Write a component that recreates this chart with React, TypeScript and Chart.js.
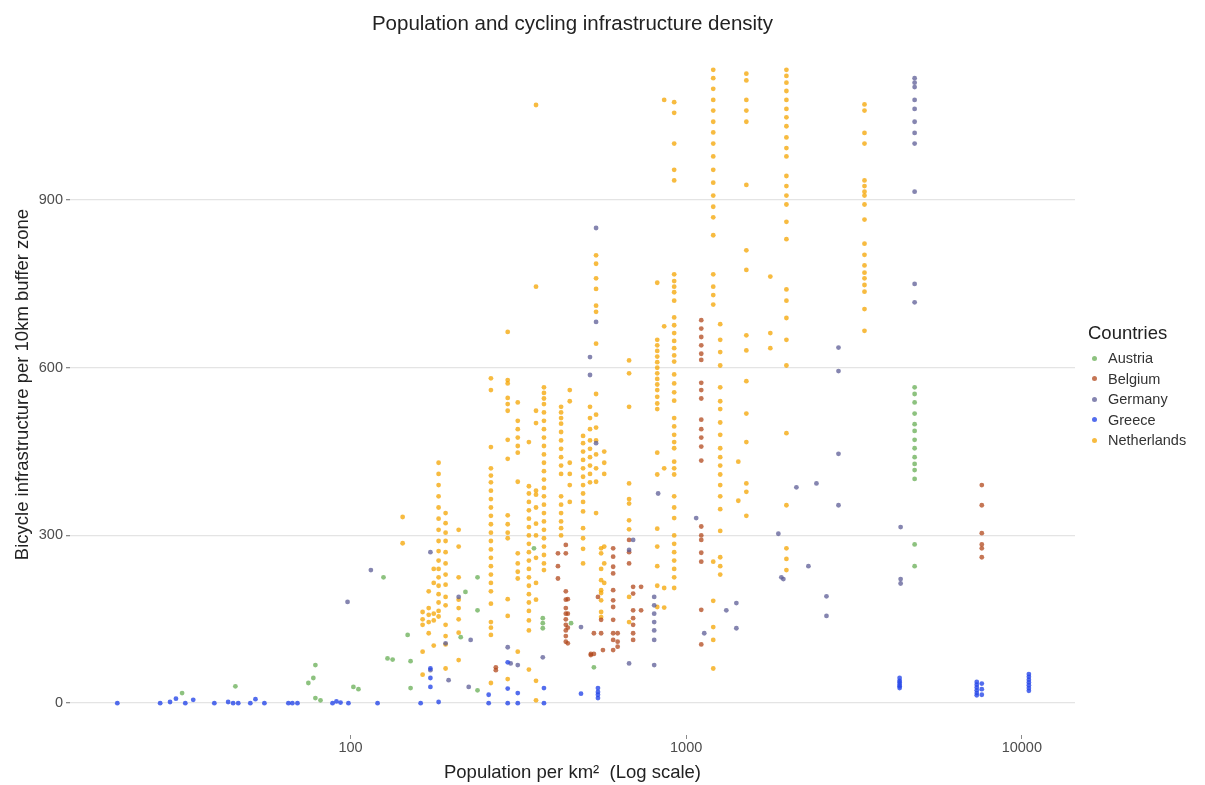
import { useEffect, useRef } from "react";
import { Chart, registerables } from "chart.js";

Chart.register(...registerables);

type Col = [number, number[]];

const countries = ["Austria", "Belgium", "Germany", "Greece", "Netherlands"];

const austriaCols: Col[] = [
  [31.5, [18]], [45.4, [30]], [74.9, [36]], [77.5, [45]], [78.6, [68, 9]], [81.4, [5]],
  [102, [29]], [105.6, [25]], [125.4, [225]], [128.9, [80]], [133.5, [78]], [148, [122]],
  [151, [75, 27]], [213, [118]], [220, [199]], [239, [225, 166, 23]], [352, [277]],
  [374, [152, 143, 134]], [454, [143]], [531, [64]],
  [4793, [565, 553, 538, 518, 499, 487, 471, 456, 440, 428, 417, 401, 284, 245]],
];

const belgiumCols: Col[] = [
  [271, [64, 59]], [415, [268, 245, 223]], [438, [283, 268, 200, 185, 170, 160, 150, 140, 130, 120, 110]],
  [444, [186, 160, 135, 107]], [520, [88, 86]], [531, [125, 88]], [546, [190]], [558, [149, 125]],
  [565, [95]], [606, [277, 262, 244, 232, 202, 184, 172, 149, 125, 113, 95]], [625, [125, 110, 101]],
  [676, [292, 270, 250]], [695, [208, 196, 166, 152, 140, 125, 113]], [734, [208, 166]],
  [1109, [685, 670, 655, 640, 625, 614, 573, 560, 545, 507, 490, 475, 459, 434, 316, 300, 292, 269, 253, 167, 105]],
  [7598, [390, 354, 304, 284, 277, 261]],
];

const germanyCols: Col[] = [
  [98, [181]], [115, [238]], [173, [270, 59]], [192, [107]], [196, [41]], [210, [190]], [225, [29]],
  [228, [113]], [294, [100]], [300, [71]], [315, [68]], [374, [82]], [486, [136]],
  [539, [850, 682, 465]], [517, [619, 587]], [676, [274, 71]], [695, [292]],
  [803, [190, 175, 160, 145, 130, 113, 68]], [825, [375]], [1071, [331]], [1132, [125]],
  [1317, [166]], [1411, [179, 134]], [1882, [303]], [1921, [225]], [1948, [222]], [2130, [386]],
  [2313, [245]], [2444, [393]], [2618, [191, 156]], [2843, [636, 594, 446, 354]],
  [4354, [315, 222, 214]], [4793, [1118, 1110, 1102, 1079, 1063, 1040, 1020, 1001, 915, 750, 717]],
];

const greeceCols: Col[] = [
  [20.2, [0]], [27.1, [0]], [29, [2]], [30.2, [8]], [32.2, [0]], [34, [6]], [39.3, [0]], [43.2, [2]],
  [44.7, [0]], [46.3, [0]], [50.3, [0]], [52.1, [7]], [55.4, [0]], [65.3, [0]], [67.1, [0]], [69.5, [0]],
  [88.4, [0]], [90.8, [3]], [93.4, [1]], [98.6, [0]], [120.4, [0]], [161.8, [0]], [173, [62, 45, 29]],
  [183, [2]], [258, [15, 0]], [294, [73, 26, 0]], [315, [18, 0]], [377, [27, 0]], [486, [17]],
  [546, [27, 20, 15, 9]], [4324, [45, 40, 37, 33, 30, 27]], [7340, [38, 33, 28, 23, 18, 14]],
  [7598, [35, 25, 15]], [10493, [52, 47, 42, 37, 32, 27, 22]],
];

const netherlandsCols: Col[] = [
  [143, [333, 286]],
  [164, [163, 150, 140, 92, 51]],
  [171, [170, 158, 145, 125, 200]],
  [177, [160, 148, 103, 215, 240]],
  [183, [430, 410, 390, 370, 350, 330, 310, 290, 272, 255, 240, 225, 210, 195, 180, 165, 155]],
  [192, [340, 322, 305, 290, 270, 250, 230, 212, 190, 175, 140, 120, 105, 62]],
  [210, [310, 280, 225, 185, 170, 150, 126, 77]],
  [262, [581, 560, 458, 420, 407, 395, 380, 365, 350, 335, 320, 305, 290, 275, 260, 245, 230, 215, 200, 178, 145, 135, 122, 36]],
  [294, [664, 578, 572, 546, 535, 523, 471, 437, 336, 320, 305, 295, 186, 156, 43]],
  [315, [538, 505, 490, 475, 460, 448, 396, 268, 250, 235, 223, 92]],
  [340, [467, 388, 375, 360, 345, 330, 315, 300, 285, 270, 255, 240, 225, 210, 195, 180, 165, 148, 130, 60]],
  [357, [1070, 745, 523, 501, 380, 373, 350, 321, 300, 260, 215, 185, 40, 5]],
  [377, [565, 555, 545, 535, 520, 505, 490, 475, 460, 445, 430, 415, 400, 385, 370, 355, 340, 325, 310, 295, 280, 265, 250, 238]],
  [424, [530, 520, 510, 500, 485, 470, 455, 440, 425, 410, 370, 355, 340, 325, 313, 300]],
  [450, [560, 540, 430, 410, 390, 360]],
  [493, [478, 465, 450, 435, 420, 405, 390, 375, 360, 343, 313, 295, 276, 250]],
  [517, [530, 510, 490, 470, 455, 440, 425, 410, 395]],
  [539, [801, 786, 760, 741, 711, 700, 643, 553, 516, 493, 470, 445, 420, 396, 340]],
  [558, [277, 268, 240, 220, 202, 197, 184, 163, 154]],
  [570, [450, 430, 410, 280, 250, 215]],
  [676, [613, 590, 530, 393, 365, 357, 327, 311, 190, 145]],
  [820, [752, 650, 640, 630, 620, 610, 600, 590, 580, 570, 560, 548, 536, 526, 448, 409, 312, 280, 245, 210, 172]],
  [860, [1079, 674, 420, 206, 171]],
  [921, [1075, 1056, 1001, 954, 935, 767, 755, 745, 735, 720, 690, 676, 662, 648, 635, 622, 611, 588, 572, 556, 541, 510, 495, 480, 467, 456, 432, 420, 409, 370, 350, 331, 300, 285, 270, 255, 240, 225, 206]],
  [1204, [1133, 1118, 1099, 1079, 1060, 1040, 1021, 1001, 978, 954, 931, 908, 888, 869, 837, 767, 745, 730, 713, 253, 183, 136, 113, 62]],
  [1263, [678, 650, 628, 604, 565, 540, 526, 502, 480, 456, 440, 425, 409, 390, 370, 347, 308, 261, 245, 230]],
  [1430, [432, 362]],
  [1511, [1126, 1114, 1079, 1060, 1040, 927, 810, 775, 658, 631, 576, 518, 467, 393, 378, 335]],
  [1781, [763, 662, 635]],
  [1989, [1133, 1122, 1110, 1095, 1079, 1063, 1048, 1032, 1012, 993, 978, 943, 925, 908, 892, 861, 830, 740, 720, 689, 650, 604, 483, 354, 277, 258, 238]],
  [3398, [1071, 1060, 1020, 1001, 935, 925, 915, 908, 892, 865, 822, 802, 783, 770, 760, 748, 736, 705, 666]],
];

const xTicks = [100, 1000, 10000];
const yTicks = [0, 300, 600, 900];

const countryColors: Record<string, string> = {
  Austria: "rgba(92,168,72,0.7)",
  Belgium: "rgba(178,72,28,0.75)",
  Germany: "rgba(92,92,150,0.75)",
  Greece: "rgba(40,72,232,0.8)",
  Netherlands: "rgba(244,164,0,0.75)",
};

const FONT = "'Liberation Sans', Arial, Helvetica, sans-serif";

function toPoints(cols: Col[]) {
  return cols.flatMap(([x, ys]) => ys.map((y) => ({ x, y })));
}

export default function App() {
  const canvasRef = useRef<HTMLCanvasElement | null>(null);

  useEffect(() => {
    if (!canvasRef.current) return;
    const colsByCountry: Record<string, Col[]> = {
      Austria: austriaCols,
      Belgium: belgiumCols,
      Germany: germanyCols,
      Greece: greeceCols,
      Netherlands: netherlandsCols,
    };
    const drawOrder = ["Greece", "Germany", "Belgium", "Austria", "Netherlands"];
    const chart = new Chart(canvasRef.current, {
      type: "scatter",
      data: {
        datasets: drawOrder.map((c) => ({
          label: c,
          data: toPoints(colsByCountry[c]),
          backgroundColor: countryColors[c],
          borderWidth: 0,
          pointRadius: 2.4,
          pointHoverRadius: 2.4,
        })),
      },
      options: {
        animation: false,
        responsive: true,
        maintainAspectRatio: false,
        layout: { padding: { left: 0, right: 130, top: 34, bottom: 0 } },
        plugins: {
          legend: { display: false },
          title: { display: false },
          tooltip: { enabled: false },
        },
        scales: {
          x: {
            type: "logarithmic",
            min: 14.6,
            max: 14400,
            afterBuildTicks: (s: any) => {
              s.ticks = xTicks.map((v) => ({ value: v }));
            },
            afterFit: (s: any) => {
              s.height = 50;
            },
            grid: { drawOnChartArea: false, drawTicks: true, tickLength: 4, tickColor: "#8a8a8a" },
            border: { display: false },
            ticks: {
              color: "#4d4d4d",
              font: { size: 14.5, family: FONT },
              padding: 0,
              autoSkip: false,
              maxRotation: 0,
              callback: (v: any) => String(v),
            },
            title: {
              display: true,
              text: "Population per km²  (Log scale)",
              color: "#222",
              font: { size: 18.5, family: FONT },
              padding: { top: 0, bottom: 1 },
            },
          },
          y: {
            type: "linear",
            min: -57,
            max: 1197,
            afterBuildTicks: (s: any) => {
              s.ticks = yTicks.map((v) => ({ value: v }));
            },
            afterFit: (s: any) => {
              s.width = 70;
            },
            grid: { color: "#e4e4e4", lineWidth: 1.3, tickLength: 4, tickColor: "#8a8a8a" },
            border: { display: false },
            ticks: {
              color: "#4d4d4d",
              font: { size: 14.5, family: FONT },
              padding: 3,
              callback: (v: any) => String(v),
            },
            title: {
              display: true,
              text: "Bicycle infrastructure per 10km buffer zone",
              color: "#222",
              font: { size: 18.5, family: FONT },
              padding: { top: 12, bottom: 0 },
            },
          },
        },
      },
    });
    return () => chart.destroy();
  }, []);

  return (
    <div style={{ position: "fixed", left: 0, top: 0, width: 1205, height: 785, background: "#fff", fontFamily: FONT }}>
      <canvas ref={canvasRef} />
      <div
        style={{
          position: "absolute",
          left: 70,
          width: 1005,
          top: 10,
          textAlign: "center",
          fontSize: 20.5,
          lineHeight: "26px",
          color: "#222",
        }}
      >
        Population and cycling infrastructure density
      </div>
      <div style={{ position: "absolute", left: 1088, top: 321, fontSize: 18.5, lineHeight: "24px", color: "#222" }}>
        Countries
      </div>
      {countries.map((c, i) => (
        <div
          key={c}
          style={{
            position: "absolute",
            left: 1088,
            top: 349 + i * 20.5,
            height: 18,
            display: "flex",
            alignItems: "center",
            fontSize: 14.5,
            color: "#333",
          }}
        >
          <span
            style={{
              display: "inline-block",
              width: 5,
              height: 5,
              borderRadius: "50%",
              background: countryColors[c],
              marginLeft: 4,
              marginRight: 11,
            }}
          />
          <span>{c}</span>
        </div>
      ))}
    </div>
  );
}
